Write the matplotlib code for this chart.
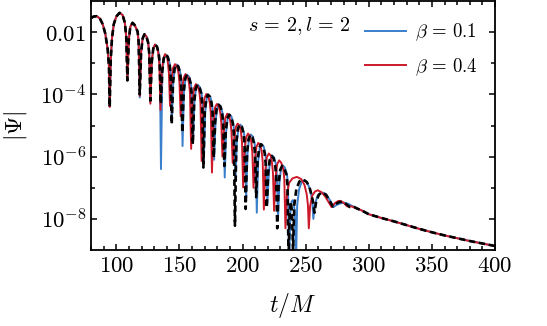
import numpy as np
import matplotlib
matplotlib.use("Agg")
from matplotlib import pyplot as plt
from matplotlib.ticker import FixedLocator, NullFormatter

plt.rcParams['mathtext.fontset'] = 'cm'
plt.rcParams['font.family'] = 'serif'

# log10|Psi|, shared start (all three curves agree here)
t_early = [80.0, 82.0, 84.5, 87.0, 89.3, 91.3, 93.2, 94.2, 94.8,
           95.6, 96.6, 98.0, 100.0, 102.6, 105.0, 106.8, 107.9, 108.8,
           109.9, 111.1, 112.9, 114.5, 116.9, 117.7]
y_early = [-1.55, -1.50, -1.49, -1.56, -1.75, -2.05, -2.55, -3.1, -4.4,
           -2.9, -2.2, -1.75, -1.5, -1.38, -1.45, -1.7, -2.15, -3.55,
           -2.26, -1.83, -1.70, -1.77, -1.98, -2.31]

# late power-law tail, same for all curves
t_tail = [300, 310, 320, 330, 340, 350, 360, 370, 380, 390, 400]
y_tail = [-7.85, -7.97, -8.08, -8.2, -8.32, -8.43, -8.53, -8.62, -8.71, -8.79, -8.87]

# reference (black dashed)
t_ref = [118.6, 119.7, 120.9, 122.3, 123.9, 125.3, 126.1, 127.0,
         128.1, 129.3, 130.7, 132.3, 133.6, 134.4, 135.3,
         136.4, 137.6, 139.1, 140.7, 142.2, 143.0, 143.9,
         145.0, 146.2, 147.6, 149.2, 150.6, 151.4, 152.3,
         153.4, 154.6, 156.0, 157.6, 158.9, 159.7, 160.6,
         161.7, 162.9, 164.3, 165.9, 167.3, 168.1, 169.0,
         170.1, 171.3, 172.6, 174.2, 175.5, 176.3, 177.2,
         178.3, 179.5, 181.0, 182.6, 183.9, 184.7, 185.6,
         186.7, 187.9, 189.4, 191.0, 192.3, 193.1, 194.0,
         195.1, 196.3, 197.8, 199.4, 200.8, 201.6, 202.5,
         203.6, 204.8, 206.2, 207.8, 209.1, 209.9, 210.8,
         211.9, 213.1, 214.6, 216.2, 217.5, 218.3, 219.2,
         220.3, 221.5, 223.0, 224.6, 225.8, 226.6, 227.5,
         228.6, 229.8, 231.3, 232.9, 234.8, 235.6, 236.5,
         237.4, 238.3, 239.2, 240.0,
         241.0, 242.6, 245.0, 248.0, 251.0, 253.5, 255.6, 257.0,
         258.3, 260.5, 263.0, 266.0, 268.8, 271.5,
         274.0, 276.5, 279.0, 282.0, 285.0, 288.5, 291.0, 294.0]
y_ref = [-4.0, -2.63, -2.20, -2.07, -2.14, -2.35, -2.68, -4.2,
         -2.96, -2.53, -2.40, -2.47, -2.68, -3.01, -4.3,
         -3.28, -2.85, -2.72, -2.79, -3.0, -3.33, -4.95,
         -3.6, -3.17, -3.04, -3.11, -3.32, -3.65, -5.23,
         -3.93, -3.5, -3.37, -3.44, -3.65, -3.98, -5.6,
         -4.25, -3.82, -3.69, -3.76, -3.97, -4.3, -6.35,
         -4.57, -4.14, -4.01, -4.08, -4.29, -4.62, -6.03,
         -4.89, -4.46, -4.33, -4.40, -4.61, -4.94, -6.3,
         -5.21, -4.78, -4.65, -4.72, -4.93, -5.26, -8.22,
         -5.53, -5.10, -4.97, -5.04, -5.25, -5.58, -7.68,
         -5.86, -5.43, -5.30, -5.37, -5.58, -5.91, -7.3,
         -6.16, -5.73, -5.60, -5.67, -5.88, -6.21, -7.64,
         -6.54, -6.11, -5.98, -6.05, -6.26, -6.59, -8.3,
         -6.86, -6.43, -6.30, -6.37, -6.58, -6.91, -9.3,
         -7.8, -7.45, -7.8, -9.0,
         -7.55, -7.05, -6.8, -6.73, -6.82, -7.05, -7.4, -7.8,
         -7.45, -7.22, -7.15, -7.22, -7.4, -7.6,
         -7.52, -7.46, -7.45, -7.52, -7.62, -7.62, -7.67, -7.72]

# beta = 0.1 (blue)
t_b01 = [118.6, 119.7, 120.9, 122.3, 123.9, 125.3, 126.1, 127.0,
         128.1, 129.3, 130.7, 132.3, 133.7, 134.5, 135.4,
         136.5, 137.7, 139.2, 140.8, 142.3, 143.1, 144.0,
         145.1, 146.3, 147.8, 149.4, 150.8, 151.6, 152.5,
         153.6, 154.8, 156.2, 157.8, 159.1, 159.9, 160.8,
         161.9, 163.1, 164.5, 166.1, 167.6, 168.4, 169.3,
         170.4, 171.6, 172.9, 174.5, 175.8, 176.6, 177.5,
         178.6, 179.8, 181.3, 182.9, 184.2, 185.0, 185.9,
         187.0, 188.2, 189.7, 191.3, 192.7, 193.5, 194.4,
         195.5, 196.7, 198.2, 199.8, 201.2, 202.0, 202.9,
         204.0, 205.2, 206.6, 208.2, 209.6, 210.4, 211.3,
         212.4, 213.6, 215.1, 216.7, 218.0, 218.8, 219.7,
         220.8, 222.0, 223.5, 225.1, 226.4, 227.2, 228.1,
         229.2, 230.4, 231.9, 233.5, 235.2, 236.0, 236.9,
         237.9, 238.8, 239.6, 240.5, 241.4, 242.3,
         243.3, 244.8, 246.8, 248.5, 251.0, 253.5, 255.2, 256.1,
         257.2, 259.5, 261.8, 264.0, 266.5, 269.5, 272.0,
         274.5, 277.5, 281.0, 284.0, 287.5, 291.0, 294.0]
y_b01 = [-4.1, -2.63, -2.20, -2.07, -2.14, -2.35, -2.68, -4.2,
         -2.96, -2.53, -2.40, -2.47, -2.68, -3.01, -6.4,
         -3.28, -2.85, -2.72, -2.79, -3.0, -3.33, -4.9,
         -3.6, -3.17, -3.04, -3.11, -3.32, -3.65, -5.66,
         -3.93, -3.50, -3.37, -3.44, -3.65, -3.98, -5.5,
         -4.25, -3.82, -3.69, -3.76, -3.97, -4.30, -6.2,
         -4.57, -4.14, -4.01, -4.08, -4.29, -4.62, -6.1,
         -4.89, -4.46, -4.33, -4.40, -4.61, -4.94, -6.67,
         -5.21, -4.78, -4.65, -4.72, -4.93, -5.26, -6.78,
         -5.53, -5.10, -4.97, -5.04, -5.25, -5.58, -7.3,
         -5.85, -5.42, -5.29, -5.36, -5.57, -5.90, -7.8,
         -6.16, -5.73, -5.60, -5.67, -5.88, -6.21, -7.5,
         -6.52, -6.09, -5.96, -6.03, -6.24, -6.57, -8.0,
         -6.84, -6.41, -6.28, -6.35, -6.56, -6.89, -9.5,
         -7.8, -7.45, -7.4, -7.45, -7.8, -9.5,
         -7.55, -7.05, -6.82, -6.76, -6.82, -7.05, -7.4, -8.0,
         -7.55, -7.25, -7.17, -7.16, -7.22, -7.42, -7.62,
         -7.55, -7.5, -7.48, -7.52, -7.6, -7.68, -7.72]

# beta = 0.4 (red)
t_b04 = [118.6, 119.7, 120.9, 122.3, 123.9, 125.3, 126.1, 127.0,
         128.1, 129.3, 130.6, 132.2, 133.3, 134.1, 135.0,
         136.1, 137.3, 138.6, 140.2, 140.9, 141.7, 142.6,
         143.7, 144.9, 146.5, 148.1, 149.3, 150.1, 151.0,
         152.1, 153.3, 154.8, 156.4, 157.6, 158.4, 159.3,
         160.4, 161.6, 163.0, 164.6, 165.9, 166.7, 167.6,
         168.7, 169.9, 171.3, 172.9, 174.1, 174.9, 175.8,
         176.9, 178.1, 179.6, 181.2, 182.4, 183.2, 184.1,
         185.2, 186.4, 187.9, 189.5, 190.5, 191.3, 192.2,
         193.3, 194.5, 196.1, 197.7, 198.8, 199.6, 200.5,
         201.6, 202.8, 204.3, 205.9, 207.0, 207.8, 208.7,
         209.8, 211.0, 212.5, 214.1, 215.2, 216.0, 216.9,
         218.0, 219.2, 220.8, 222.4, 223.3, 224.1, 225.0,
         226.1, 227.4, 229.0, 230.6, 232.3, 233.1, 234.0,
         235.2, 236.8, 239.5, 243.0, 246.5, 249.0, 250.8, 251.8, 252.5,
         253.5, 255.2, 257.4, 259.6, 262.5, 265.5, 268.0, 270.5,
         273.0, 275.5, 277.5, 280.0, 283.0, 286.5, 290.0, 294.0]
y_b04 = [-4.05, -2.63, -2.20, -2.07, -2.14, -2.35, -2.68, -4.3,
         -2.96, -2.53, -2.40, -2.47, -2.68, -3.01, -4.5,
         -3.27, -2.84, -2.71, -2.78, -2.99, -3.32, -4.37,
         -3.59, -3.16, -3.03, -3.10, -3.31, -3.64, -4.7,
         -3.91, -3.48, -3.35, -3.42, -3.63, -3.96, -5.75,
         -4.23, -3.80, -3.67, -3.74, -3.95, -4.28, -6.14,
         -4.55, -4.12, -3.99, -4.06, -4.27, -4.60, -6.51,
         -4.87, -4.44, -4.31, -4.38, -4.59, -4.92, -6.0,
         -5.18, -4.75, -4.62, -4.69, -4.90, -5.23, -6.2,
         -5.50, -5.07, -4.94, -5.01, -5.22, -5.55, -6.99,
         -5.82, -5.39, -5.26, -5.33, -5.54, -5.87, -7.0,
         -6.12, -5.69, -5.56, -5.63, -5.84, -6.17, -7.7,
         -6.46, -6.03, -5.90, -5.97, -6.18, -6.51, -7.74,
         -6.68, -6.25, -6.12, -6.19, -6.40, -6.73, -8.3,
         -7.25, -6.85, -6.7, -6.65, -6.72, -6.9, -7.2, -7.55, -8.3,
         -7.6, -7.25, -7.12, -7.08, -7.14, -7.28, -7.45, -7.62,
         -7.5, -7.43, -7.42, -7.48, -7.6, -7.6, -7.66, -7.72]


def curve(t_mid, y_mid):
    t = np.array(t_early + t_mid + t_tail, dtype=float)
    y = np.array(y_early + y_mid + y_tail, dtype=float)
    return t, 10.0 ** y


fig = plt.figure(figsize=(5.47, 3.26), dpi=100)
ax = fig.add_axes([0.1664, 0.233, 0.7386, 0.764])

t, psi = curve(t_b01, y_b01)
ax.plot(t, psi, color='#3a7fcc', lw=1.4, label=r'$\beta\,=\,0.1$')
t, psi = curve(t_b04, y_b04)
ax.plot(t, psi, color='#cc1a2a', lw=1.4, label=r'$\beta\,=\,0.4$')
t, psi = curve(t_ref, y_ref)
ax.plot(t, psi, color='black', lw=1.9, ls=(0, (2.4, 1.4)))

ax.set_yscale('log')
ax.set_xlim(80, 400)
ax.set_ylim(1e-9, 1e-1)

ax.set_xticks([100, 150, 200, 250, 300, 350, 400])
ax.set_xticklabels([r'$100$', r'$150$', r'$200$', r'$250$', r'$300$', r'$350$', r'$400$'])
ax.xaxis.set_minor_locator(FixedLocator(np.arange(80, 401, 10)))
ax.yaxis.set_major_locator(FixedLocator([1e-2, 1e-4, 1e-6, 1e-8]))
ax.set_yticklabels([r'$0.01$', r'$10^{-4}$', r'$10^{-6}$', r'$10^{-8}$'])
ax.yaxis.set_minor_locator(FixedLocator([1e-3, 1e-5, 1e-7]))
ax.yaxis.set_minor_formatter(NullFormatter())

ax.tick_params(which='both', direction='in', top=True, right=True, labelsize=16.5, width=1.1)
ax.tick_params(which='major', length=4.5)
ax.tick_params(which='minor', length=2.6)
for s in ax.spines.values():
    s.set_linewidth(1.3)

ax.set_xlabel(r'$t/M$', fontsize=17, labelpad=10)
ax.set_ylabel(r'$|\Psi|$', fontsize=17, labelpad=8)

ax.text(0.388, 0.9, r'$s\,=\,2,l\,=\,2$', transform=ax.transAxes, fontsize=14.5, va='center')
ax.legend(loc='upper left', bbox_to_anchor=(0.655, 0.955), frameon=False, fontsize=13.5,
          handlelength=2.2, handletextpad=0.45, labelspacing=0.7, borderpad=0)

fig.savefig('out.png', dpi=100)
